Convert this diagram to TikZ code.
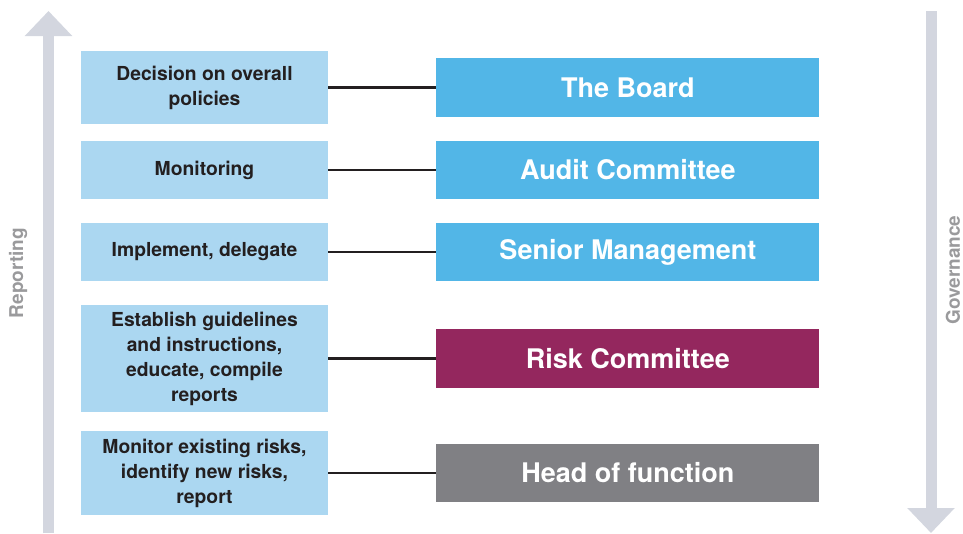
\documentclass[tikz,border=0pt]{standalone}
\usepackage{fontspec}
\setmainfont{TeX Gyre Heros}
\usetikzlibrary{arrows.meta, positioning}

\definecolor{taskblue}{HTML}{ABD7F1}
\definecolor{bodyblue}{HTML}{52B6E7}
\definecolor{riskred}{HTML}{94275E}
\definecolor{headgray}{HTML}{808084}
\definecolor{flowgray}{HTML}{D3D6DF}
\definecolor{labelgray}{HTML}{9A9A9C}
\definecolor{linkdark}{HTML}{231F20}

\tikzset{
  task/.style={fill=taskblue, minimum width=247pt, inner sep=0pt, align=center,
    text=linkdark, font=\bfseries\fontsize{19.3}{25}\selectfont},
  body/.style={fill=bodyblue, minimum width=383pt, minimum height=58.5pt, inner sep=0pt,
    text=white, font=\bfseries\fontsize{27}{30}\selectfont},
  link/.style={draw=linkdark, line width=2.2pt},
  flow/.style={draw=flowgray, line width=11pt, -{Triangle[width=46pt, length=25pt]}},
  side/.style={text=labelgray, inner sep=0pt, font=\bfseries\fontsize{19}{22}\selectfont, rotate=90}
}

\begin{document}
\begin{tikzpicture}[x=1pt, y=-1pt, node distance=108pt]
        \useasboundingbox (0,0) rectangle (963,533);

        % Draw the side arrows
        \coordinate (repbot) at (48.5,533);
        \coordinate (reptop) at (48.5,11);
        \coordinate (govtop) at (931,11);
        \coordinate (govbot) at (931,533);
        \draw [flow] (repbot) -- (reptop);
        \draw [flow] (govtop) -- (govbot);
        \node (reporting)  [side] at (18,273) {Reporting};
        \node (governance) [side] at (953,270) {Governance};

        % Draw the task blocks
        \node (decide)    [task, minimum height=73pt]  at (204.5,87.5) {Decision on overall\\policies};
        \node (monitor)   [task, minimum height=58pt]  at (204.5,170)  {Monitoring};
        \node (implement) [task, minimum height=58pt]  at (204.5,252)  {Implement, delegate};
        \node (establish) [task, minimum height=107pt] at (204.5,358.5) {Establish guidelines\\and instructions,\\educate, compile\\reports};
        \node (identify)  [task, minimum height=84pt]  at (204.5,473)  {Monitor existing risks,\\identify new risks,\\report};

        % Draw the bodies
        \node (board)  [body, right=of decide]    {The Board};
        \node (audit)  [body, right=of monitor]   {Audit Committee};
        \node (senior) [body, right=of implement] {Senior Management};
        \node (risk)   [body, fill=riskred, right=of establish] {Risk Committee};
        \node (head)   [body, fill=headgray, right=of identify] {Head of function};

        % Draw the connecting lines
        \draw [link] (decide) -- (board);
        \draw [link] (monitor) -- (audit);
        \draw [link] (implement) -- (senior);
        \draw [link] (establish) -- (risk);
        \draw [link] (identify) -- (head);
    \end{tikzpicture}
\end{document}
